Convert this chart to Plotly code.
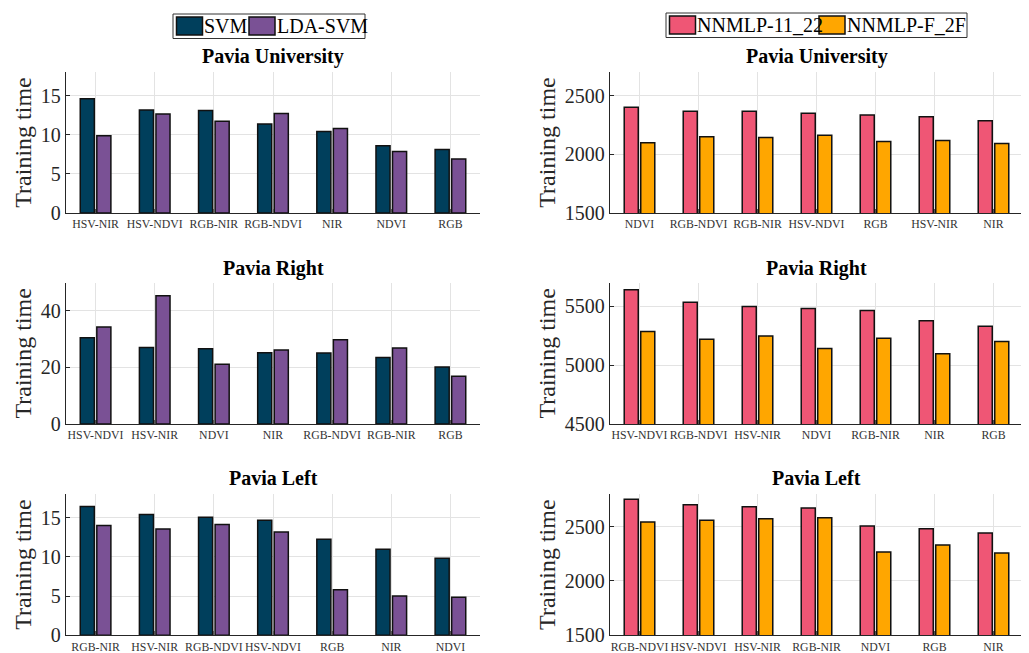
import plotly.graph_objects as go

# page body has an 8px margin, so the figure is drawn 8px in from the top-left
OFF = 8
W, H = 1029 - OFF, 653 - OFF

# ---------------- data ----------------
pu_cls_cats = ["HSV-NIR", "HSV-NDVI", "RGB-NIR", "RGB-NDVI", "NIR", "NDVI", "RGB"]
pu_svm = [14.6, 13.15, 13.1, 11.35, 10.4, 8.6, 8.1]
pu_lda = [9.85, 12.65, 11.7, 12.7, 10.8, 7.85, 6.9]

pu_nn_cats = ["NDVI", "RGB-NDVI", "RGB-NIR", "HSV-NDVI", "RGB", "HSV-NIR", "NIR"]
pu_nn1 = [2401, 2367, 2365, 2348, 2334, 2320, 2286]
pu_nn2 = [2097, 2148, 2142, 2162, 2109, 2117, 2092]

pr_cls_cats = ["HSV-NDVI", "HSV-NIR", "NDVI", "NIR", "RGB-NDVI", "RGB-NIR", "RGB"]
pr_svm = [30.5, 27.1, 26.6, 25.2, 25.1, 23.5, 20.2]
pr_lda = [34.3, 45.4, 21.1, 26.2, 29.8, 26.9, 16.9]

pr_nn_cats = ["HSV-NDVI", "RGB-NDVI", "HSV-NIR", "NDVI", "RGB-NIR", "NIR", "RGB"]
pr_nn1 = [5641, 5534, 5497, 5480, 5463, 5376, 5331]
pr_nn2 = [5285, 5220, 5248, 5141, 5229, 5096, 5201]

pl_cls_cats = ["RGB-NIR", "HSV-NIR", "RGB-NDVI", "HSV-NDVI", "RGB", "NIR", "NDVI"]
pl_svm = [16.4, 15.4, 15.05, 14.65, 12.25, 10.95, 9.8]
pl_lda = [14.0, 13.55, 14.1, 13.15, 5.8, 5.0, 4.85]

pl_nn_cats = ["RGB-NDVI", "HSV-NDVI", "HSV-NIR", "RGB-NIR", "NDVI", "RGB", "NIR"]
pl_nn1 = [2751, 2702, 2683, 2671, 2506, 2481, 2441]
pl_nn2 = [2542, 2558, 2573, 2582, 2266, 2330, 2257]

titles = ["Pavia University", "Pavia Right", "Pavia Left"]
cls_names = ["SVM", "LDA-SVM"]
nn_names = ["NNMLP-11_22", "NNMLP-F_2F"]
y_ranges_cls = [[0, 18], [0, 50], [0, 18]]
y_ticks_cls = [[0, 5, 10, 15], [0, 20, 40], [0, 5, 10, 15]]
y_ranges_nn = [[1500, 2700], [4500, 5700], [1500, 2800]]
y_ticks_nn = [[1500, 2000, 2500], [4500, 5000, 5500], [1500, 2000, 2500]]

# ---------------- style ----------------
C_SVM, C_LDA = "#003f5c", "#7a5195"
C_NN1, C_NN2 = "#ef5675", "#ffa600"
FONT = "Liberation Serif"
TXT = "#262626"
GRID = "#e3e3e3"
EDGE = "#111111"

# pixel layout (screen pixels)
x_dom_px = [(66, 480), (610, 1023)]
y_dom_px = [(72, 213), (282.7, 424), (494, 635.3)]
title_y_px = [57, 268, 478]


def px(x):
    return (x - OFF) / W


def py(y):
    return 1 - (y - OFF) / H


def xd(p):
    return [px(p[0]), px(p[1])]


def yd(p):
    return [py(p[1]), py(p[0])]


fig = go.Figure()

panels = [
    (pu_cls_cats, pu_svm, pu_lda, pu_nn_cats, pu_nn1, pu_nn2),
    (pr_cls_cats, pr_svm, pr_lda, pr_nn_cats, pr_nn1, pr_nn2),
    (pl_cls_cats, pl_svm, pl_lda, pl_nn_cats, pl_nn1, pl_nn2),
]

layout_axes = {}
annotations = []
shapes = []
idx = 1
for r, (cc, s1, s2, nc, n1, n2) in enumerate(panels):
    for c in range(2):
        xa = "x" if idx == 1 else f"x{idx}"
        ya = "y" if idx == 1 else f"y{idx}"
        if c == 0:
            cats, a, b, names, cols = cc, s1, s2, cls_names, (C_SVM, C_LDA)
            yr, yt = y_ranges_cls[r], y_ticks_cls[r]
        else:
            cats, a, b, names, cols = nc, n1, n2, nn_names, (C_NN1, C_NN2)
            yr, yt = y_ranges_nn[r], y_ticks_nn[r]
        for vals, name, col in ((a, names[0], cols[0]), (b, names[1], cols[1])):
            fig.add_trace(go.Bar(
                x=cats, y=vals, name=name, xaxis=xa, yaxis=ya,
                marker=dict(color=col, line=dict(color=EDGE, width=1.5)),
                showlegend=False,
            ))
        layout_axes["xaxis" if idx == 1 else f"xaxis{idx}"] = dict(
            domain=xd(x_dom_px[c]), anchor=ya, type="category",
            range=[-0.5, 6.5], showgrid=True, gridcolor=GRID, gridwidth=1,
            showline=True, linecolor=TXT, linewidth=1.3,
            ticks="inside", ticklen=4, tickwidth=1, tickcolor="#555555",
            tickangle=0, automargin=False,
            tickfont=dict(family=FONT, size=11.8, color="#333333"),
            fixedrange=True,
        )
        layout_axes["yaxis" if idx == 1 else f"yaxis{idx}"] = dict(
            domain=yd(y_dom_px[r]), anchor=xa, range=yr, tickvals=yt,
            showgrid=True, gridcolor=GRID, gridwidth=1, zeroline=False,
            showline=True, linecolor=TXT, linewidth=1.3,
            ticks="inside", ticklen=4, tickwidth=1, tickcolor=TXT,
            tickfont=dict(family=FONT, size=20, color=TXT),
            title=dict(text="Training time", font=dict(family=FONT, size=24, color=TXT), standoff=2),
            automargin=False, fixedrange=True,
        )
        annotations.append(dict(
            text=f"<b>{titles[r]}</b>", xref="paper", yref="paper",
            x=px(sum(x_dom_px[c]) / 2), y=py(title_y_px[r]),
            xanchor="center", yanchor="middle", showarrow=False,
            font=dict(family=FONT, size=20, color="#000000"),
        ))
        idx += 1

# ---------------- legends (boxed, above each column) ----------------
legend_specs = [
    ((173, 365, 14, 38.5), [((176.5, 202.5, 17, 35), C_SVM, 203, cls_names[0]),
                            ((249, 275, 17, 35), C_LDA, 275.5, cls_names[1])]),
    ((666, 967, 13, 37.5), [((669.5, 695.5, 16, 34), C_NN1, 696, nn_names[0]),
                            ((819, 845, 16, 34), C_NN2, 845.5, nn_names[1])]),
]
for box, items in legend_specs:
    shapes.append(dict(type="rect", xref="paper", yref="paper",
                       x0=px(box[0]), x1=px(box[1]), y0=py(box[3]), y1=py(box[2]),
                       line=dict(color="#333333", width=1), fillcolor="white", layer="above"))
    for (sx0, sx1, sy0, sy1), col, tx, label in items:
        shapes.append(dict(type="rect", xref="paper", yref="paper",
                           x0=px(sx0), x1=px(sx1), y0=py(sy1), y1=py(sy0),
                           line=dict(color=EDGE, width=1.5), fillcolor=col, layer="above"))
        annotations.append(dict(
            text=label, xref="paper", yref="paper", x=px(tx), y=py((box[2] + box[3]) / 2),
            xanchor="left", yanchor="middle", showarrow=False, borderpad=0,
            font=dict(family=FONT, size=20, color="#000000"),
        ))

fig.update_layout(
    template="none",
    width=W, height=H,
    margin=dict(l=0, r=0, t=0, b=0),
    font=dict(family=FONT, color=TXT),
    paper_bgcolor="white", plot_bgcolor="white",
    barmode="group", bargap=0.44, bargroupgap=0.15,
    showlegend=False,
    annotations=annotations,
    shapes=shapes,
    **layout_axes,
)

fig.write_html("out.html")
